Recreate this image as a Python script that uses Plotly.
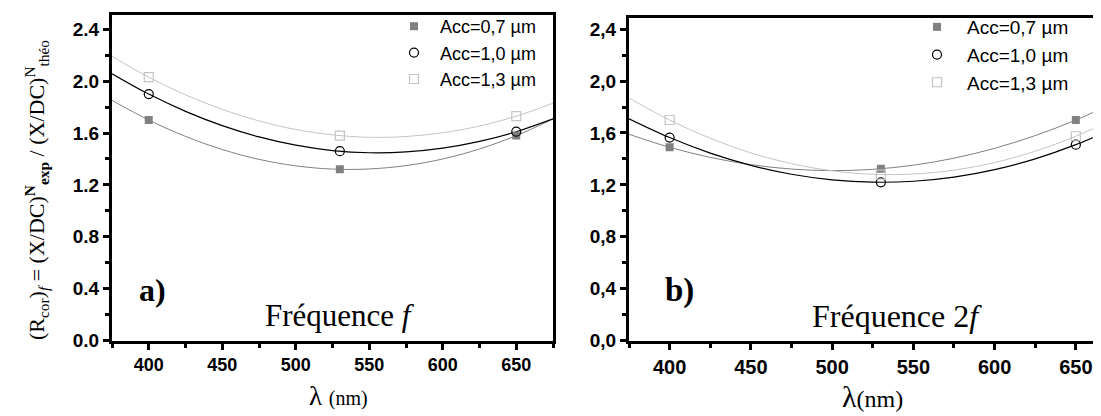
import plotly.graph_objects as go

# ---------------- data ----------------
wl = [400, 530, 650]
a_07 = [1.70, 1.32, 1.58]
a_10 = [1.90, 1.46, 1.61]
a_13 = [2.03, 1.58, 1.73]
b_07 = [1.49, 1.325, 1.70]
b_10 = [1.565, 1.22, 1.51]
b_13 = [1.70, 1.28, 1.575]

fit_wl = [375, 400, 425, 450, 475, 500, 525, 550, 575, 600, 625, 650, 675]
fit_a_07 = [1.852, 1.700, 1.574, 1.473, 1.397, 1.347, 1.322, 1.323, 1.349, 1.400, 1.477, 1.580, 1.708]
fit_a_10 = [2.057, 1.900, 1.767, 1.657, 1.570, 1.506, 1.465, 1.448, 1.454, 1.483, 1.535, 1.610, 1.709]
fit_a_13 = [2.190, 2.030, 1.894, 1.782, 1.693, 1.627, 1.586, 1.567, 1.573, 1.602, 1.654, 1.730, 1.830]
fit_b_07 = [1.590, 1.490, 1.412, 1.356, 1.322, 1.310, 1.320, 1.352, 1.406, 1.482, 1.580, 1.700, 1.842]
fit_b_10 = [1.710, 1.565, 1.445, 1.351, 1.282, 1.239, 1.221, 1.228, 1.260, 1.318, 1.401, 1.510, 1.644]
fit_b_13 = [1.869, 1.700, 1.560, 1.447, 1.364, 1.309, 1.282, 1.284, 1.314, 1.372, 1.460, 1.575, 1.719]

series_names = ["Acc=0,7 µm", "Acc=1,0 µm", "Acc=1,3 µm"]
x_tickvals = [400, 450, 500, 550, 600, 650]
x_ticktext = ["400", "450", "500", "550", "600", "650"]
y_tickvals = [0.0, 0.4, 0.8, 1.2, 1.6, 2.0, 2.4]
y_ticktext_a = ["0.0", "0.4", "0.8", "1.2", "1.6", "2.0", "2.4"]
y_ticktext_b = ["0,0", "0,4", "0,8", "1,2", "1,6", "2,0", "2,4"]

# ---------------- styles ----------------
W, H = 1101, 416
SANS = "Liberation Sans"
SERIF = "Liberation Serif"
colors = ["#808080", "#000000", "#c4c4c4"]
line_w = [1.0, 1.2, 1.0]
markers = [
    dict(symbol="square", size=8, color="#808080", line=dict(width=0)),
    dict(symbol="circle-open", size=9, color="#000000", line=dict(width=1.2, color="#000000")),
    dict(symbol="square-open", size=9, color="#c4c4c4", line=dict(width=1.2, color="#c4c4c4")),
]

fig = go.Figure()

panels = [
    dict(xa="x", ya="y", legend="legend", pts=[a_07, a_10, a_13], fits=[fit_a_07, fit_a_10, fit_a_13]),
    dict(xa="x2", ya="y2", legend="legend2", pts=[b_07, b_10, b_13], fits=[fit_b_07, fit_b_10, fit_b_13]),
]

for p in panels:
    for i in range(3):
        fig.add_trace(go.Scatter(
            x=fit_wl, y=p["fits"][i], mode="lines", line=dict(color=colors[i], width=line_w[i], shape="spline"),
            xaxis=p["xa"], yaxis=p["ya"], showlegend=False, hoverinfo="skip"))
    for i in range(3):
        fig.add_trace(go.Scatter(
            x=wl, y=p["pts"][i], mode="markers", marker=markers[i], name=series_names[i],
            xaxis=p["xa"], yaxis=p["ya"], legend=p["legend"], showlegend=True))

def bold(lst):
    return ["<b>%s</b>" % t for t in lst]

def tickfont(size):
    return dict(family=SANS, size=size, color="black")

def xaxis(domain, rng, fsize):
    return dict(domain=domain, range=rng, showline=True, linewidth=3, linecolor="black", mirror=True,
                ticks="outside", ticklen=6, tickwidth=2.5, tickcolor="black",
                tickvals=x_tickvals, ticktext=bold(x_ticktext), tickfont=tickfont(fsize),
                minor=dict(ticks="outside", ticklen=4, tickwidth=2.5, tickcolor="black", dtick=25, tick0=375, showgrid=False),
                showgrid=False, zeroline=False, fixedrange=True)

def yaxis(domain, rng, anchor, ticktext, mirror, fsize):
    return dict(domain=domain, range=rng, anchor=anchor, showline=True, linewidth=3, linecolor="black", mirror=mirror,
                ticks="outside", ticklen=6, tickwidth=2.5, tickcolor="black",
                tickvals=y_tickvals, ticktext=bold(ticktext), tickfont=tickfont(fsize),
                minor=dict(ticks="outside", ticklen=4, tickwidth=2.5, tickcolor="black", dtick=0.2, tick0=0, showgrid=False),
                showgrid=False, zeroline=False, fixedrange=True)

ybot = (H - 341.7) / H
fig.update_layout(
    width=W, height=H, margin=dict(l=0, r=0, t=0, b=0),
    paper_bgcolor="white", plot_bgcolor="white",
    xaxis=xaxis([104 / W, 545 / W], [375, 675], 18) | dict(anchor="y"),
    yaxis=yaxis([ybot, (H - 6.7) / H], [0, 2.513], "x", y_ticktext_a, True, 19),
    xaxis2=xaxis([621 / W, 1.0], [375, 670.4], 20) | dict(anchor="y2"),
    yaxis2=yaxis([ybot, (H - 10) / H], [0, 2.488], "x2", y_ticktext_b, False, 19),
    legend=dict(x=380 / W, y=1.0, xanchor="left", yanchor="top", bgcolor="rgba(0,0,0,0)",
                font=dict(family=SANS, size=18, color="black"),
                tracegroupgap=0, itemwidth=42),
    legend2=dict(x=899 / W, y=1.0, xanchor="left", yanchor="top", bgcolor="rgba(0,0,0,0)",
                 font=dict(family=SANS, size=19, color="black"),
                 tracegroupgap=0, itemwidth=50),
    showlegend=True,
)

ann = [
    dict(x=28 / W, y=(H - 187) / H, textangle=-90,
         text="(R<sub>cor</sub>)<sub><i>f</i></sub> = (X/DC)<sup><b>N</b></sup><sub><b>exp</b></sub> / (X/DC)<sup>N</sup><sub>théo</sub>",
         font=dict(family=SERIF, size=22, color="black")),
    dict(x=330 / W, y=(H - 399) / H, text="λ <span style='font-size:20px'>(nm)</span>",
         font=dict(family=SERIF, size=27, color="black")),
    dict(x=864 / W, y=(H - 399) / H, text="λ<span style='font-size:24px'>(nm)</span>",
         font=dict(family=SERIF, size=30, color="black")),
    dict(x=144 / W, y=(H - 290) / H, text="<b>a)</b>", font=dict(family=SERIF, size=32, color="black")),
    dict(x=671 / W, y=(H - 290) / H, text="<b>b)</b>", font=dict(family=SERIF, size=33, color="black")),
    dict(x=332 / W, y=(H - 316) / H, text="Fréquence <i>f</i>", font=dict(family=SERIF, size=31, color="black")),
    dict(x=889 / W, y=(H - 316) / H, text="Fréquence 2<i>f</i>", font=dict(family=SERIF, size=32, color="black")),
]
for a in ann:
    a.update(xref="paper", yref="paper", showarrow=False, xanchor="center", yanchor="middle")
fig.update_layout(annotations=ann)

fig.write_html("out.html")
